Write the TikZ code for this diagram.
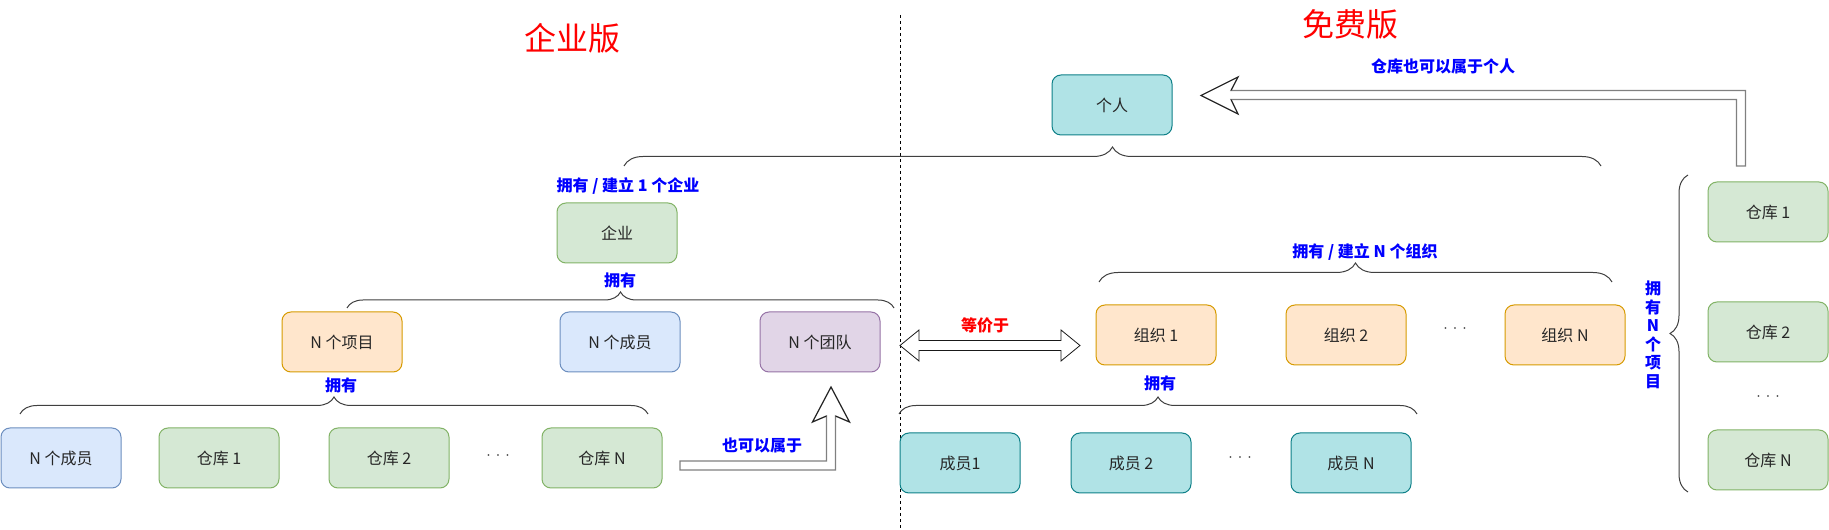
\documentclass[tikz,border=0pt]{standalone}
\usepackage{fontspec}
\setmainfont{Noto Sans CJK SC}
\usetikzlibrary{decorations.pathreplacing}

\definecolor{greenFill}{HTML}{D5E8D4}
\definecolor{greenLine}{HTML}{82B366}
\definecolor{orangeFill}{HTML}{FFE6CC}
\definecolor{orangeLine}{HTML}{D79B00}
\definecolor{blueFill}{HTML}{DAE8FC}
\definecolor{blueLine}{HTML}{6C8EBF}
\definecolor{purpleFill}{HTML}{E1D5E7}
\definecolor{purpleLine}{HTML}{9673A6}
\definecolor{tealFill}{HTML}{B0E3E6}
\definecolor{tealLine}{HTML}{0E8088}
\definecolor{labelBlue}{HTML}{0000FF}
\definecolor{titleRed}{HTML}{FF0000}

\tikzset{
  box/.style={draw, rounded corners=6.75pt, minimum width=90pt, minimum height=45pt,
    inner sep=0pt, line width=0.75pt, text=black!85, font=\fontsize{12}{14}\selectfont},
  greenbox/.style={box, draw=greenLine, fill=greenFill},
  orangebox/.style={box, draw=orangeLine, fill=orangeFill},
  bluebox/.style={box, draw=blueLine, fill=blueFill},
  purplebox/.style={box, draw=purpleLine, fill=purpleFill},
  tealbox/.style={box, draw=tealLine, fill=tealFill},
  owns/.style={text=labelBlue, inner sep=0pt, font=\bfseries\fontsize{12}{14}\selectfont},
  title/.style={text=titleRed, inner sep=0pt, font=\fontsize{24}{28}\selectfont},
  dots/.style={inner sep=0pt, text=black!85, font=\fontsize{12}{14}\selectfont},
  bracket/.style={draw=black!75, line width=0.75pt, decorate, decoration={brace, amplitude=#1}},
  bracket/.default=13pt,
  shaft/.style={draw=black!50, fill=white, line width=1pt},
  head/.style={draw=black!90, line width=0.6pt},
}

\newcommand{\threedots}{$\cdot$\hspace{3.8pt}$\cdot$\hspace{3.8pt}$\cdot$}

\begin{document}
\begin{tikzpicture}[x=0.75pt, y=-0.75pt]
    \fill[white] (0,0) rectangle (1829,530);
    \useasboundingbox (0,0) rectangle (1829,530);

    % Titles
    \node[title] (titleEnt) at (572,38) {企业版};
    \node[title] (titleFree) at (1350,24) {免费版};

    % Divider
    \draw[dash pattern=on 2.25pt off 2.25pt, line width=0.75pt] (900,15) -- (900,530);

    % Person
    \node[tealbox] (person) at (1112,105) {个人};
    \node[owns] (lblBelong) at (1443,66) {仓库也可以属于个人};
    \draw[bracket=14.25pt] (624,166) -- (1601,166);

    % Enterprise
    \node[owns] (lblEnt) at (628,186) {拥有 / 建立 1 个企业};
    \node[greenbox] (ent) at (617,233) {企业};
    \node[owns] (lblHas1) at (620,280) {拥有};
    \draw[bracket=12pt] (347,308) -- (894,308);

    \node[orangebox] (proj) at (342,342) {N 个项目};
    \node[bluebox] (entMem) at (620,342) {N 个成员};
    \node[purplebox] (team) at (820,342) {N 个团队};

    % Project contents
    \node[owns] (lblHas2) at (341,385) {拥有};
    \draw[bracket=12.75pt] (20,414) -- (648,414);
    \node[bluebox] (projMem) at (61,458) {N 个成员};
    \node[greenbox] (repo1) at (219,458) {仓库 1};
    \node[greenbox] (repo2) at (389,458) {仓库 2};
    \node[dots] (repoDots) at (498,456) {\threedots};
    \node[greenbox] (repoN) at (602,458) {仓库 N};

    % Repo may belong to a team
    \node[owns] (lblTeam) at (762,445) {也可以属于};
    \coordinate (teamTail) at (680,465.5);
    \coordinate (teamTip) at (831,387);
    \draw[shaft] (teamTail) ++(0,-4.5) -- (826.5,461) -- (826.5,416) -- (812.5,422)
      -- (teamTip) -- (849.5,422) -- (835.5,416) -- (835.5,470) -- (680,470) -- cycle;
    \draw[head] (826.5,416) -- (812.5,422) -- (teamTip) -- (849.5,422) -- (835.5,416);

    % Team equals organisation
    \node[text=titleRed, inner sep=0pt, font=\bfseries\fontsize{12}{14}\selectfont] (lblEq) at (985,325) {等价于};
    \coordinate (eqLeft) at (900,345.5);
    \coordinate (eqRight) at (1080,345.5);
    \draw[head, fill=white] (eqLeft) -- (919,330) -- (919,340.5) -- (1061,340.5) -- (1061,330)
      -- (eqRight) -- (1061,361) -- (1061,350.5) -- (919,350.5) -- (919,361) -- cycle;

    % Organisations
    \node[owns] (lblOrg) at (1365,252) {拥有 / 建立 N 个组织};
    \draw[bracket=14.25pt] (1099,282) -- (1612,282);
    \node[orangebox] (org1) at (1156,335) {组织 1};
    \node[orangebox] (org2) at (1346,335) {组织 2};
    \node[dots] (orgDots) at (1455,329) {\threedots};
    \node[orangebox] (orgN) at (1565,335) {组织 N};

    % Organisation members
    \node[owns] (lblHas3) at (1160,383) {拥有};
    \draw[bracket=12.75pt] (899,414) -- (1417,414);
    \node[tealbox] (mem1) at (960,463) {成员1};
    \node[tealbox] (mem2) at (1131,463) {成员 2};
    \node[dots] (memDots) at (1240,458) {\threedots};
    \node[tealbox] (memN) at (1351,463) {成员 N};

    % Personal repositories
    \node[owns, align=center, font=\bfseries\fontsize{12}{13.9}\selectfont] (lblProj) at (1653,335) {拥\\有\\N\\个\\项\\目};
    \draw[bracket=13.5pt] (1688,492) -- (1688,175);
    \node[greenbox] (prRepo1) at (1768,212) {仓库 1};
    \node[greenbox] (prRepo2) at (1768,332) {仓库 2};
    \node[dots] (prDots) at (1768,397) {\threedots};
    \node[greenbox] (prRepoN) at (1768,460) {仓库 N};

    % Repo may belong to a person
    \coordinate (personTail) at (1741,166);
    \coordinate (personTip) at (1201,95.5);
    \draw[shaft] (personTail) ++(-4.5,0) -- (1736.5,99.5) -- (1231,99.5) -- (1238,114)
      -- (personTip) -- (1238,77) -- (1231,90.5) -- (1745.5,90.5) -- (1745.5,166) -- cycle;
    \draw[head] (1231,99.5) -- (1238,114) -- (personTip) -- (1238,77) -- (1231,90.5);
\end{tikzpicture}
\end{document}
